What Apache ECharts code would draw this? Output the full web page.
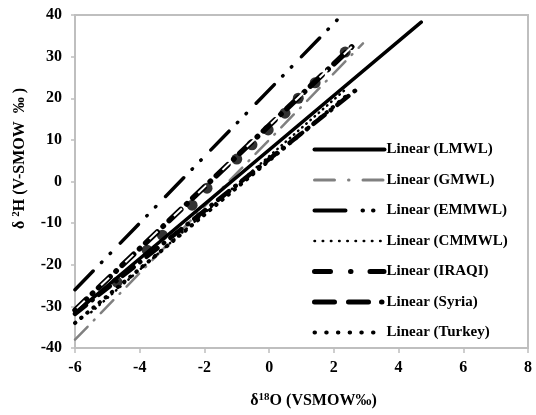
<!DOCTYPE html>
<html><head><meta charset="utf-8">
<script src="https://cdn.jsdelivr.net/npm/echarts@6/dist/echarts.min.js"></script>
<style>html,body{margin:0;padding:0;background:#fff}#c{width:536px;height:415px}</style>
</head><body><div id="c"></div>
<script>
// x-axis / y-axis tick setup
const xTicks = [-6, -4, -2, 0, 2, 4, 6, 8];
const yTicks = [-40, -30, -20, -10, 0, 10, 20, 30, 40];
// legend entries (series names)
const names = ['Linear (LMWL)', 'Linear (GMWL)', 'Linear (EMMWL)', 'Linear (CMMWL)', 'Linear (IRAQI)', 'Linear (Syria)', 'Linear (Turkey)'];
// trendline endpoints [δ18O, δ2H]
const lmwl   = [[-6, -31.6], [4.7, 38.3]];
const gmwl   = [[-6, -38], [2.9, 33.2]];
const emmwl  = [[-6, -26], [2.25, 40]];
const cmmwl  = [[-5.5, -31.4], [2.4, 22.4]];
const iraqi  = [[-6, -30.9], [2.6, 32.7]];
const syria  = [[-6, -31.8], [2.72, 22.2]];
const turkey = [[-6, -34], [2.5, 21.3]];
// heavy round marks along the IRAQI line
const blobs = [[-4.7, -24.2], [-3.77, -16.5], [-3.3, -12.9], [-2.38, -5.7], [-1.92, -1.6],
  [-1.0, 5.4], [-0.53, 8.8], [-0.03, 12.4], [0.49, 16.4], [0.9, 20], [1.42, 23.7], [2.35, 31.1]];

const F = '"Liberation Serif","Times New Roman",serif';
function line(name, data, color, width, type, extra) {
  return Object.assign({
    name: name, type: 'line', data: data, symbol: 'none', silent: true,
    lineStyle: {color: color, width: width, type: type, cap: 'round'},
    itemStyle: {color: color}
  }, extra || {});
}
const legendStyles = [
  {width: 4, type: 'solid'},
  {width: 3, type: [20, 14, 0.5, 14, 20]},
  {width: 4, type: [31, 17, 0.5, 10, 0.5, 20]},
  {width: 2.5, type: [0.5, 7.7]},
  {width: 5, type: [16, 20, 0.5, 19, 14]},
  {width: 5, type: [20, 14, 20, 13, 0.5, 10]},
  {width: 4, type: [0.5, 11.2]}
];
const chart = echarts.init(document.getElementById('c'), null, {renderer: 'canvas'});
chart.setOption({
  animation: false,
  grid: {left: 75, right: 8, top: 15, bottom: 67, show: true, borderColor: '#bfbfbf', borderWidth: 2},
  xAxis: {
    type: 'value', min: xTicks[0], max: xTicks[xTicks.length - 1], interval: 2,
    axisLine: {onZero: false, lineStyle: {color: '#bfbfbf', width: 2}},
    axisTick: {show: true, length: 5, lineStyle: {color: '#bfbfbf', width: 1.5}},
    splitLine: {show: false},
    axisLabel: {color: '#000', fontFamily: F, fontWeight: 'bold', fontSize: 16, margin: 12},
    name: '{a|δ}{s|18}{a|O (VSMOW‰)}', nameLocation: 'middle', nameGap: 44,
    nameTextStyle: {padding: [0, 0, 0, 24], rich: {
      a: {fontFamily: F, fontWeight: 'bold', fontSize: 16, color: '#000'},
      s: {fontFamily: F, fontWeight: 'bold', fontSize: 11, color: '#000', verticalAlign: 'top', padding: [0, 0, 6, 0]}
    }}
  },
  yAxis: {
    type: 'value', min: yTicks[0], max: yTicks[yTicks.length - 1], interval: 10,
    axisLine: {show: true, onZero: false, lineStyle: {color: '#bfbfbf', width: 2}},
    axisTick: {show: true, length: 4, lineStyle: {color: '#bfbfbf', width: 1.5}},
    splitLine: {show: false},
    axisLabel: {color: '#000', fontFamily: F, fontWeight: 'bold', fontSize: 16, margin: 13},
    name: '{a|δ }{s|2}{a|H (V-SMOW  ‰ )}', nameLocation: 'middle', nameGap: 47,
    nameTextStyle: {padding: [0, 0, 0, 46], rich: {
      a: {fontFamily: F, fontWeight: 'bold', fontSize: 16, color: '#000'},
      s: {fontFamily: F, fontWeight: 'bold', fontSize: 11, color: '#000', verticalAlign: 'top', padding: [0, 0, 6, 0]}
    }}
  },
  legend: {
    data: names.map((n, i) => ({name: n, lineStyle: legendStyles[i]})),
    orient: 'vertical', left: 305, top: 136, itemWidth: 70, itemHeight: 14, itemGap: 15.5,
    padding: [6, 4, 6, 7], backgroundColor: '#fff',
    itemStyle: {opacity: 0},
    textStyle: {fontFamily: F, fontWeight: 'bold', fontSize: 15, color: '#000', padding: [0, 0, 0, -3]}
  },
  series: [
    line(names[1], gmwl, '#808080', 2.5, [18, 9, 1, 9]),
    line(names[2], emmwl, '#000', 3.5, [26, 12, 0.5, 12, 0.5, 14]),
    line(names[3], cmmwl, '#000', 2.5, [0.5, 5]),
    line(names[6], turkey, '#000', 4, [0.5, 7.5]),
    line(names[5], syria, '#000', 4.5, [14, 8, 0.5, 8]),
    line(names[4], iraqi, '#000', 5.5, [16, 8, 0.5, 8]),
    line('iraqiInner', iraqi, '#fff', 2, [11, 22.5], {lineStyle: {color: '#fff', width: 2, type: [11, 22.5], dashOffset: -2.5, cap: 'butt'}}),
    {name: 'marks', type: 'scatter', data: blobs, symbolSize: 11, itemStyle: {color: '#000'}, silent: true},
    line(names[0], lmwl, '#000', 3.5, 'solid')
  ]
});
</script></body></html>
